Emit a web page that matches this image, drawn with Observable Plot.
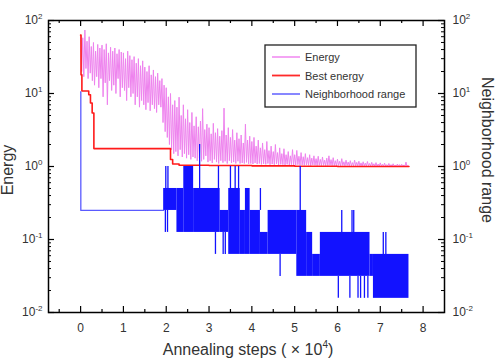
<!DOCTYPE html>
<html>
<head>
<meta charset="utf-8">
<script src="https://cdn.jsdelivr.net/npm/d3@7"></script>
<script src="https://cdn.jsdelivr.net/npm/@observablehq/plot@0.6"></script>
<style>
  body { margin: 0; background: #fff; }
  #chart svg { display: block; }
</style>
</head>
<body>
<div id="chart"></div>
<script>
// Energy sampled every 0.025 ×10⁴ annealing steps
const stepSize = 0.025;
const energy = [
  63, 20, 58, 17, 74, 22, 52, 16, 60, 19,
  44, 15, 50, 13, 38, 17, 47, 12, 42, 16,
  46, 9, 40, 14, 48, 7, 36, 15, 43, 11,
  38, 13, 42, 10, 35, 16, 40, 9, 37, 12,
  36, 11, 30, 8, 38, 12, 33, 9, 29, 10,
  32, 7, 26, 9, 30, 6.5, 24, 8, 28, 7,
  23, 6, 20, 7.5, 24, 5.8, 18, 7, 21, 6.2,
  17, 5.5, 19, 7, 15, 6.5, 16, 4, 13, 3,
  12, 2.5, 9, 2, 10, 1.7, 7, 1.5, 8, 1.6,
  6.5, 1.4, 8.9, 1.7, 5, 1.35, 7, 1.5, 4.5, 1.3,
  6, 1.45, 4, 1.25, 5.5, 1.35, 3.6, 1.3, 4.8, 1.2,
  3.5, 1.3, 4.2, 1.18, 6.2, 1.25, 3.2, 1.4, 3.8, 1.15,
  3.4, 1.2, 2.8, 1.12, 3.9, 1.25, 2.9, 1.15, 3.3, 1.1,
  2.6, 1.2, 3.1, 1.13, 6.3, 1.18, 2.7, 1.1, 3.4, 1.2,
  2.5, 1.12, 3.2, 1.15, 2.3, 1.1, 2.9, 1.18, 2.4, 1.1,
  2.7, 1.12, 2.1, 1.1, 3.8, 1.14, 2.3, 1.09, 2.6, 1.1,
  2.2, 1.08, 2.5, 1.12, 1.9, 1.08, 2.3, 1.1, 1.8, 1.07,
  2.1, 1.09, 1.7, 1.07, 2.2, 1.1, 1.65, 1.06, 1.9, 1.08,
  1.6, 1.06, 2.0, 1.09, 1.55, 1.05, 1.8, 1.07, 1.5, 1.06,
  1.75, 1.05, 1.45, 1.07, 1.6, 1.04, 1.4, 1.06, 1.7, 1.05,
  1.45, 1.04, 1.66, 1.06, 1.38, 1.04, 1.55, 1.05, 1.36, 1.04,
  1.5, 1.05, 1.32, 1.04, 1.45, 1.03, 1.3, 1.05, 1.4, 1.04,
  1.28, 1.03, 1.38, 1.04, 1.25, 1.03, 1.35, 1.04, 1.22, 1.03,
  1.3, 1.03, 1.4, 1.04, 1.24, 1.03, 1.32, 1.03, 1.2, 1.02,
  1.26, 1.03, 1.18, 1.02, 1.28, 1.03, 1.16, 1.02, 1.22, 1.03,
  1.15, 1.02, 1.2, 1.02, 1.13, 1.02, 1.22, 1.02, 1.14, 1.02,
  1.18, 1.02, 1.12, 1.01, 1.16, 1.02, 1.11, 1.01, 1.17, 1.02,
  1.1, 1.01, 1.14, 1.02, 1.09, 1.01, 1.13, 1.01, 1.08, 1.01,
  1.12, 1.01, 1.07, 1.01, 1.11, 1.01, 1.06, 1.01, 1.1, 1.01,
  1.06, 1.0, 1.09, 1.01, 1.05, 1.0, 1.08, 1.0, 1.06, 1.0,
  1.07, 1.0, 1.05, 1.0, 1.15, 1.0, 1.04
];

// Best energy found so far (step changes)
const bestX = [0, 0.01, 0.03, 0.19, 0.23, 0.27, 0.31, 2.1, 2.15, 2.3, 3.0, 4.0, 5.0, 6.0, 7.67];
const bestY = [63, 18, 10.8, 9.6, 7.4, 5.4, 1.76, 1.25, 1.08, 1.04, 1.03, 1.02, 1.01, 1.0, 1.0];

// Neighborhood range: initial plateau
const rangeX = [0, 0.005, 1.94];
const rangeY = [10.5, 0.25, 0.25];

// Neighborhood range: stretches of rapid switching between two levels
const bandStart = [1.94, 2.25, 2.41, 2.64, 3.26, 3.46, 3.73, 3.85, 3.96, 4.2, 4.38, 5.05, 5.28, 5.42, 5.6, 6.76, 6.84];
const bandEnd   = [2.25, 2.41, 2.64, 3.26, 3.46, 3.73, 3.85, 3.96, 4.2, 4.38, 5.05, 5.28, 5.42, 5.6, 6.76, 6.84, 7.67];
const bandHigh  = [0.5, 0.5, 1, 0.5, 0.25, 0.5, 0.25, 0.5, 0.25, 0.125, 0.25, 0.25, 0.125, 0.0625, 0.125, 0.0625, 0.0625];
const bandLow   = [0.25, 0.125, 0.125, 0.125, 0.125, 0.0625, 0.0625, 0.0625, 0.0625, 0.0625, 0.0625, 0.03125, 0.03125, 0.03125, 0.03125, 0.03125, 0.015625];

// Neighborhood range: isolated excursions
const spikeX    = [1.99, 2.04, 1.98, 2.03, 2.78, 3.15, 3.22, 3.33, 3.38, 3.50, 3.61, 3.69, 4.2, 4.66, 5.13, 6.02, 6.1, 6.29, 6.34, 6.38, 6.48, 6.54, 6.63, 6.71, 7.07, 7.13];
const spikeHigh = [1, 1, 0.25, 0.25, 2, 0.125, 1, 0.125, 0.125, 1, 1, 1, 0.5, 0.0625, 1, 0.03125, 0.25, 0.03125, 0.25, 0.25, 0.03125, 0.03125, 0.03125, 0.03125, 0.125, 0.125];
const spikeLow  = [0.5, 0.5, 0.125, 0.125, 0.5, 0.0625, 0.5, 0.0625, 0.0625, 0.5, 0.5, 0.5, 0.25, 0.03125, 0.25, 0.015625, 0.125, 0.015625, 0.125, 0.125, 0.015625, 0.015625, 0.015625, 0.015625, 0.0625, 0.0625];

// Ticks
const xTicks = [0, 1, 2, 3, 4, 5, 6, 7, 8];
const xMinorTicks = [-0.5, 0.5, 1.5, 2.5, 3.5, 4.5, 5.5, 6.5, 7.5];
const yTicks = [0.01, 0.1, 1, 10, 100];
const yTickExponents = ["-2", "-1", "0", "1", "2"];
const yMinorMultipliers = [2, 3, 4, 5, 6, 7, 8, 9];
const yMinorTicks = yTicks.slice(0, -1).flatMap(d => yMinorMultipliers.map(m => d * m));

const seriesNames = ["Energy", "Best energy", "Neighborhood range"];
const seriesColors = ["#f39af3", "#ff2a2a", "#7a7aff"];

const W = 496, H = 359;
const M = {top: 20, right: 52, bottom: 47, left: 48};
const innerH = H - M.top - M.bottom;
const innerW = W - M.left - M.right;
const major = 6, minor = 3;
const blue = "#1212ff";

const energyData = energy.map((e, i) => ({x: i * stepSize, y: e}));
const bestData = bestX.map((x, i) => ({x, y: bestY[i]}));
const rangeData = rangeX.map((x, i) => ({x, y: rangeY[i]}));
const bands = bandStart.map((s, i) => ({x1: s, x2: bandEnd[i], y1: bandLow[i], y2: bandHigh[i]}));
const spikes = spikeX.map((x, i) => ({x, y1: spikeLow[i], y2: spikeHigh[i]}));
const expOf = new Map(yTicks.map((t, i) => [t, yTickExponents[i]]));

const plot = Plot.plot({
  width: W,
  height: H,
  marginTop: M.top,
  marginRight: M.right,
  marginBottom: M.bottom,
  marginLeft: M.left,
  style: {fontFamily: "'Liberation Sans', Arial, sans-serif", fontSize: "12px", color: "#333", background: "#fff"},
  x: {domain: [-0.75, 8.5]},
  y: {type: "log", domain: [0.01, 100]},
  marks: [
    Plot.line(energyData, {x: "x", y: "y", stroke: "#ee82ee", strokeWidth: 1}),
    Plot.line(bestData, {x: "x", y: "y", curve: "step-after", stroke: "#ff1a1a", strokeWidth: 1.6}),
    Plot.line(rangeData, {x: "x", y: "y", curve: "step-after", stroke: "#5a5aff", strokeWidth: 1.3}),
    Plot.rect(bands, {x1: "x1", x2: "x2", y1: "y1", y2: "y2", fill: blue}),
    Plot.ruleX(spikes, {x: "x", y1: "y1", y2: "y2", stroke: blue, strokeWidth: 1.3}),

    // inward ticks on all four sides
    Plot.tickX(xTicks, {x: d => d, insetTop: innerH - major, stroke: "#000", strokeWidth: 1.2}),
    Plot.tickX(xTicks, {x: d => d, insetBottom: innerH - major, stroke: "#000", strokeWidth: 1.2}),
    Plot.tickX(xMinorTicks, {x: d => d, insetTop: innerH - minor, stroke: "#000", strokeWidth: 1.2}),
    Plot.tickX(xMinorTicks, {x: d => d, insetBottom: innerH - minor, stroke: "#000", strokeWidth: 1.2}),
    Plot.tickY(yTicks, {y: d => d, insetRight: innerW - major, stroke: "#000", strokeWidth: 1.2}),
    Plot.tickY(yTicks, {y: d => d, insetLeft: innerW - major, stroke: "#000", strokeWidth: 1.2}),
    Plot.tickY(yMinorTicks, {y: d => d, insetRight: innerW - minor, stroke: "#000", strokeWidth: 1}),
    Plot.tickY(yMinorTicks, {y: d => d, insetLeft: innerW - minor, stroke: "#000", strokeWidth: 1}),

    Plot.axisX(xTicks, {tickSize: 0, tickPadding: 11, fontSize: 12, label: null, tickFormat: d => String(d)}),
    Plot.axisY(yTicks, {anchor: "left", tickSize: 0, tickPadding: 6, fontSize: 12, label: null, tickFormat: d => expOf.get(d)}),
    Plot.axisY(yTicks, {anchor: "right", tickSize: 0, tickPadding: 8, fontSize: 12, label: null, tickFormat: d => expOf.get(d)}),

    Plot.frame({stroke: "#000", strokeWidth: 1.5})
  ]
});

const svg = d3.select(plot);

// tick labels as powers of ten
svg.selectAll('g[aria-label="y-axis tick label"] text').each(function () {
  const exp = this.textContent;
  const t = d3.select(this);
  t.text(null);
  t.append("tspan").text("10");
  t.append("tspan").attr("dy", -5).attr("font-size", 8).text(exp);
});

// axis titles
const titleFont = "'Liberation Sans', Arial, sans-serif";
const xt = svg.append("text")
  .attr("x", 248).attr("y", 355)
  .attr("text-anchor", "middle")
  .attr("font-family", titleFont).attr("font-size", 16).attr("fill", "#333");
xt.append("tspan").text("Annealing steps ( \u00d7 10");
xt.append("tspan").attr("dy", -7).attr("font-size", 10).text("4");
xt.append("tspan").attr("dy", 7).text(")");

svg.append("text")
  .attr("transform", "translate(7,170) rotate(-90)")
  .attr("text-anchor", "middle").attr("dominant-baseline", "central")
  .attr("font-family", titleFont).attr("font-size", 16).attr("fill", "#333")
  .text("Energy");

svg.append("text")
  .attr("transform", "translate(487,150) rotate(90)")
  .attr("text-anchor", "middle").attr("dominant-baseline", "central")
  .attr("font-family", titleFont).attr("font-size", 16).attr("fill", "#333")
  .text("Neighborhood range");

// legend
const leg = svg.append("g").attr("transform", "translate(265,45)");
leg.append("rect")
  .attr("width", 151).attr("height", 62)
  .attr("fill", "#fff").attr("stroke", "#222").attr("stroke-width", 1.3);
seriesNames.forEach((name, i) => {
  const cy = 12 + i * 18.5;
  leg.append("line")
    .attr("x1", 7).attr("x2", 35).attr("y1", cy).attr("y2", cy)
    .attr("stroke", seriesColors[i]).attr("stroke-width", 1.8);
  leg.append("text")
    .attr("x", 40).attr("y", cy)
    .attr("text-anchor", "start").attr("dominant-baseline", "central")
    .attr("font-family", titleFont).attr("font-size", 11).attr("fill", "#333")
    .text(name);
});

document.getElementById("chart").appendChild(plot);
</script>
</body>
</html>
